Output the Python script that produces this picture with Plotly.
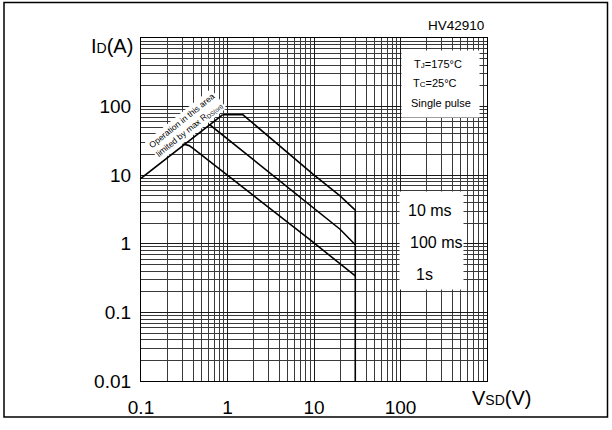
import plotly.graph_objects as go

# ---- data ----
rds_v = [0.1, 0.875]
rds_i = [9.0, 76.0]

v_10ms = [0.875, 1.51, 9.8, 20.0, 30.0, 30.0]
i_10ms = [76.0, 76.0, 10.3, 5.0, 3.1, 0.01]

v_100ms = [0.6, 0.64, 20.0, 30.0]
i_100ms = [54.0, 53.0, 1.63, 0.97]

v_1s = [0.307, 0.36, 0.4, 8.2, 9.35, 30.0]
i_1s = [28.5, 27.0, 24.6, 1.26, 1.1, 0.34]

x_ticks = [0.1, 1, 10, 100]
x_ticktext = ["0.1", "1", "10", "100"]
y_ticks = [0.01, 0.1, 1, 10, 100]
y_ticktext = ["0.01", "0.1", "1", "10", "100"]

x_minor = [m * 10.0 ** d for d in range(-1, 3) for m in range(2, 10)]
y_minor = [m * 10.0 ** d for d in range(-2, 3) for m in range(2, 10)]

FONT = "Liberation Sans, Arial, Helvetica, sans-serif"

fig = go.Figure()
line = dict(color="black", width=1.6)
for xs, ys in [(rds_v, rds_i), (v_10ms, i_10ms), (v_100ms, i_100ms), (v_1s, i_1s)]:
    fig.add_trace(go.Scatter(x=xs, y=ys, mode="lines", line=line,
                             showlegend=False, hoverinfo="skip"))

axis_common = dict(
    type="log", showline=True, linecolor="black", linewidth=1.2, mirror=True,
    showgrid=True, gridcolor="#1a1a1a", gridwidth=1, zeroline=False,
    ticks="", tickfont=dict(family=FONT, size=19, color="black"),
)

fig.update_xaxes(range=[-1, 3], tickvals=x_ticks, ticktext=x_ticktext,
                 ticklabelstandoff=9,
                 minor=dict(tickvals=x_minor, showgrid=True, gridcolor="#3a3a3a", gridwidth=1),
                 **axis_common)
fig.update_yaxes(range=[-2, 3], tickvals=y_ticks, ticktext=y_ticktext,
                 ticklabelstandoff=5,
                 minor=dict(tickvals=y_minor, showgrid=True, gridcolor="#3a3a3a", gridwidth=1),
                 **axis_common)

PW, PH = 346.0, 353.0
L, T = 141.0, 38.0

def px(xp):
    return (xp - L) / PW

def py(yp):
    return 1 - (yp - T) / PH

annotations = [
    dict(text="HV42910", x=px(486), y=py(25), xanchor="right", yanchor="middle",
         font=dict(size=13.5)),
    dict(text="I<span style='font-size:14px'>D</span>(A)", x=px(135), y=py(46.5),
         xanchor="right", yanchor="middle", font=dict(size=20)),
    dict(text="V<span style='font-size:14px'>SD</span>(V)", x=px(470), y=py(409),
         xanchor="left", yanchor="middle", font=dict(size=20)),
    # conditions box
    dict(text="", x=px(440.5), y=py(85), xanchor="center", yanchor="middle",
         bgcolor="white", width=75, height=64),
    dict(text="T<span style='font-size:8px'>J</span>=175°C", x=px(412), y=py(64.5),
         xanchor="left", yanchor="middle", font=dict(size=11)),
    dict(text="T<span style='font-size:8px'>C</span>=25°C", x=px(411), y=py(84.5),
         xanchor="left", yanchor="middle", font=dict(size=11)),
    dict(text="Single pulse", x=px(409), y=py(104.5),
         xanchor="left", yanchor="middle", font=dict(size=11)),
    # pulse labels box
    dict(text="", x=px(431.5), y=py(246.5), xanchor="center", yanchor="middle",
         bgcolor="white", width=61, height=95),
    dict(text="10 ms", x=px(406), y=py(216), xanchor="left", yanchor="middle",
         font=dict(size=16)),
    dict(text="100 ms", x=px(408), y=py(248), xanchor="left", yanchor="middle",
         font=dict(size=16)),
    dict(text="1s", x=px(414), y=py(281), xanchor="left", yanchor="middle",
         font=dict(size=16)),
    # RDS(on) note
    dict(text="Operation in this area<br>limited by max R<sub>DS(on)</sub>",
         x=px(186), y=py(128), xanchor="center", yanchor="middle",
         textangle=-39, bgcolor="white", borderpad=1, font=dict(size=8.5),
         align="center"),
]
for a in annotations:
    a.setdefault("xref", "paper")
    a.setdefault("yref", "paper")
    a.setdefault("showarrow", False)
    f = a.setdefault("font", {})
    f.setdefault("family", FONT)
    f.setdefault("color", "black")
fig.update_layout(annotations=annotations)

# outer frame
fig.add_shape(type="rect", xref="paper", yref="paper",
              x0=px(4), x1=px(607.5), y0=py(428), y1=py(1.5),
              line=dict(color="black", width=1.5), fillcolor="rgba(0,0,0,0)")

fig.update_layout(
    width=612, height=430,
    margin=dict(l=141, r=125, t=38, b=39),
    paper_bgcolor="white", plot_bgcolor="white",
    font=dict(family=FONT, color="black"),
    showlegend=False,
)

fig.write_html("out.html")
